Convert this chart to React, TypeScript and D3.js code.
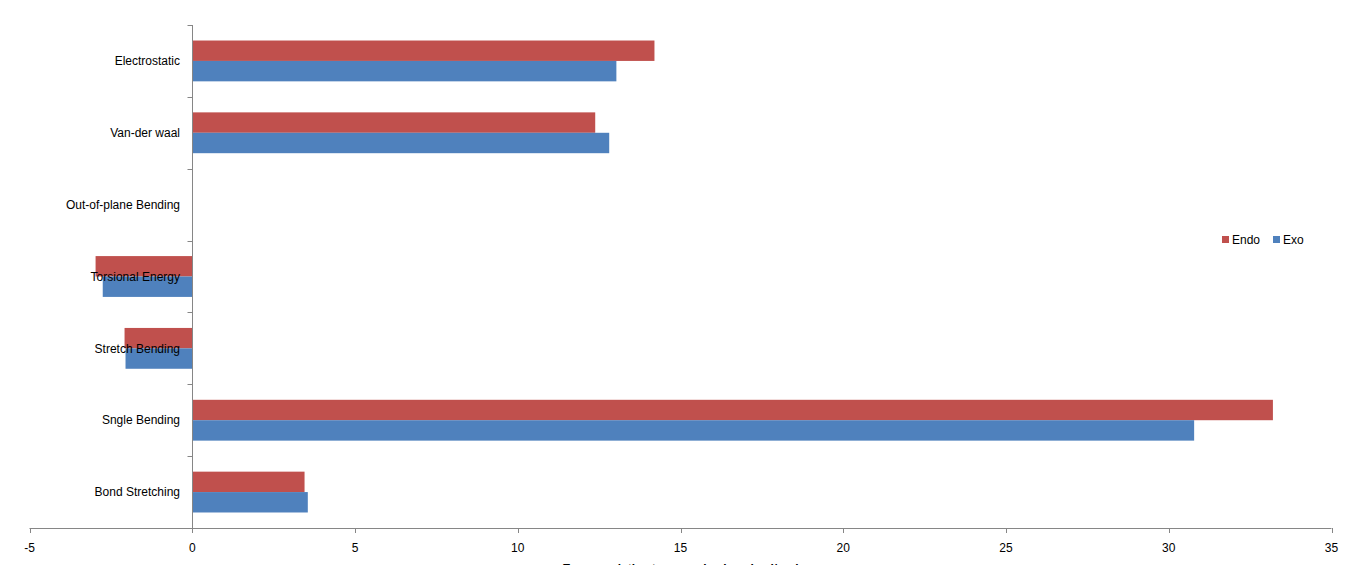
import React, { useEffect, useRef } from 'react';
import * as d3 from 'd3';

// categories top to bottom, as shown on the chart
const categories = [
  'Electrostatic',
  'Van-der waal',
  'Out-of-plane Bending',
  'Torsional Energy',
  'Stretch Bending',
  'Sngle Bending',
  'Bond Stretching',
];

const seriesNames = ['Endo', 'Exo'];
const endoValues = [14.2, 12.38, 0, -2.97, -2.08, 33.2, 3.45];
const exoValues = [13.03, 12.81, 0, -2.75, -2.05, 30.78, 3.55];

const xTicks = [-5, 0, 5, 10, 15, 20, 25, 30, 35];
const seriesColors = ['#C0504D', '#4F81BD'];

const W = 1356;
const H = 565;
const FONT = '"Liberation Sans", Arial, sans-serif';

export default function App() {
  const svgRef = useRef<SVGSVGElement>(null);

  useEffect(() => {
    if (!svgRef.current) return;
    const svg = d3.select(svgRef.current);
    svg.selectAll('*').remove();

    const left = 29.5;
    const right = 1331.5;
    const top = 25;
    const bottom = 528;

    const x = d3.scaleLinear().domain([-5, 35]).range([left, right]);
    const y = d3.scaleBand<string>().domain(categories).range([top, bottom]).paddingInner(0);
    const ySeries = d3
      .scaleBand<string>()
      .domain(seriesNames)
      .range([0, y.bandwidth()])
      .paddingInner(0)
      .paddingOuter(0.76);

    const x0 = Math.round(x(0)) + 0.5;

    // bars
    const rows = categories.map((c, i) => ({ c, vals: [endoValues[i], exoValues[i]] }));
    rows.forEach((r) => {
      r.vals.forEach((v, si) => {
        const a = x(Math.min(0, v));
        const b = x(Math.max(0, v));
        if (b - a <= 0) return;
        svg
          .append('rect')
          .attr('x', a)
          .attr('y', (y(r.c) ?? 0) + (ySeries(seriesNames[si]) ?? 0))
          .attr('width', b - a)
          .attr('height', ySeries.bandwidth())
          .attr('fill', seriesColors[si]);
      });
    });

    // x axis
    const axisColor = '#868686';
    svg
      .append('line')
      .attr('x1', left)
      .attr('x2', right)
      .attr('y1', bottom + 0.5)
      .attr('y2', bottom + 0.5)
      .attr('stroke', axisColor);
    xTicks.forEach((t) => {
      const px = Math.round(x(t)) + 0.5;
      svg
        .append('line')
        .attr('x1', px)
        .attr('x2', px)
        .attr('y1', bottom)
        .attr('y2', bottom + 5)
        .attr('stroke', axisColor);
      svg
        .append('text')
        .attr('x', x(t))
        .attr('y', 552)
        .attr('text-anchor', 'middle')
        .attr('font-family', FONT)
        .attr('font-size', 12)
        .attr('fill', '#000')
        .text(String(t));
    });

    // y axis
    svg
      .append('line')
      .attr('x1', x0)
      .attr('x2', x0)
      .attr('y1', top)
      .attr('y2', bottom)
      .attr('stroke', axisColor);
    const boundaries = categories.map((c) => y(c) ?? 0).concat([bottom]);
    boundaries.forEach((b) => {
      const py = Math.round(b) + 0.5;
      svg
        .append('line')
        .attr('x1', x0 - 5)
        .attr('x2', x0)
        .attr('y1', py)
        .attr('y2', py)
        .attr('stroke', axisColor);
    });

    // category labels (drawn over bars)
    categories.forEach((c) => {
      svg
        .append('text')
        .attr('x', 180)
        .attr('y', (y(c) ?? 0) + y.bandwidth() / 2)
        .attr('dy', '0.35em')
        .attr('text-anchor', 'end')
        .attr('font-family', FONT)
        .attr('font-size', 12)
        .attr('fill', '#000')
        .text(c);
    });

    // axis title (cut off at bottom edge)
    svg
      .append('text')
      .attr('x', (left + right) / 2)
      .attr('y', 573)
      .attr('text-anchor', 'middle')
      .attr('font-family', FONT)
      .attr('font-size', 12)
      .attr('font-weight', 'bold')
      .attr('fill', '#000')
      .text('Energy relative to normal values kcal/mol');

    // legend
    const legendX = [1222, 1273];
    seriesNames.forEach((s, i) => {
      svg
        .append('rect')
        .attr('x', legendX[i])
        .attr('y', 236)
        .attr('width', 7)
        .attr('height', 7)
        .attr('fill', seriesColors[i]);
      svg
        .append('text')
        .attr('x', legendX[i] + 10)
        .attr('y', 243.5)
        .attr('font-family', FONT)
        .attr('font-size', 12)
        .attr('fill', '#000')
        .text(s);
    });
  }, []);

  return (
    <svg
      ref={svgRef}
      width={W}
      height={H}
      style={{ position: 'absolute', left: 0, top: 0, background: '#fff' }}
    />
  );
}
